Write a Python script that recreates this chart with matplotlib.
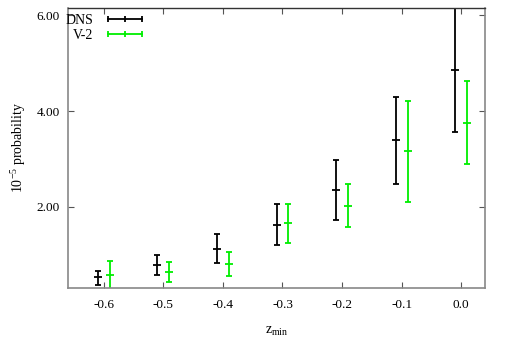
import matplotlib
matplotlib.use("Agg")
import matplotlib.pyplot as plt
from matplotlib.lines import Line2D
import numpy as np

z = [-0.6, -0.5, -0.4, -0.3, -0.2, -0.1, 0.0]
dns_mid = [0.53, 0.79, 1.125, 1.63, 2.35, 3.39, 4.85]
dns_lo = [0.375, 0.58, 0.84, 1.21, 1.72, 2.48, 3.57]
dns_hi = [0.67, 0.99, 1.44, 2.06, 2.97, 4.29, 6.15]
v2_mid = [0.58, 0.65, 0.81, 1.66, 2.02, 3.16, 3.76]
v2_lo = [0.25, 0.44, 0.55, 1.25, 1.58, 2.10, 2.90]
v2_hi = [0.875, 0.85, 1.07, 2.07, 2.48, 4.22, 4.63]
xticks = [-0.6, -0.5, -0.4, -0.3, -0.2, -0.1, 0.0]
yticks = [2.0, 4.0, 6.0]

plt.rcParams['font.family'] = ['Liberation Serif', 'DejaVu Serif']
plt.rcParams['mathtext.fontset'] = 'custom'
plt.rcParams['mathtext.rm'] = 'Liberation Serif'

fig = plt.figure(figsize=(5.09, 3.47), dpi=100)
ax = fig.add_axes([68/509, 1-288/347, (485-68)/509, (288-8)/347])

green = '#00ee00'
offset = 0.01

def draw(zs, mid, lo, hi, dx, color):
    x = np.array(zs) + dx
    mid = np.array(mid); lo = np.array(lo); hi = np.array(hi)
    ax.errorbar(x, mid, yerr=[mid - lo, hi - mid], fmt='_', color=color,
                ecolor=color, elinewidth=1.3, capsize=2, capthick=1.3,
                markersize=5.5, markeredgewidth=1.3, clip_on=True)

draw(z, dns_mid, dns_lo, dns_hi, -offset, 'black')
draw(z, v2_mid, v2_lo, v2_hi, offset, green)

ax.set_xlim(-0.66, 0.04)
ax.set_ylim(0.31, 6.15)
ax.set_xticks(xticks)
ax.set_xticklabels(['%.1f' % t for t in xticks])
ax.set_yticks(yticks)
ax.set_yticklabels(['%.2f' % t for t in yticks])
ax.tick_params(direction='in', length=4, width=0.8, labelsize=9.5, color='#555555',
               top=True, right=True, pad=8)
ax.tick_params(axis='y', pad=6)

for s in ['left', 'bottom', 'right']:
    ax.spines[s].set_color('#888888')
    ax.spines[s].set_linewidth(1.2)
ax.spines['top'].set_color('#333333')
ax.spines['top'].set_linewidth(1.0)

ax.set_xlabel(r'z$_{\rm min}$', fontsize=10, labelpad=10)
ax.set_ylabel(r'10$^{-5}$ probability', fontsize=10, labelpad=6)

h1 = Line2D([], [], color='black', lw=1.3, marker='|', markersize=5, markeredgewidth=1.3)
h2 = Line2D([], [], color=green, lw=1.3, marker='|', markersize=5, markeredgewidth=1.3)
leg = ax.legend([h1, h2], ['DNS', 'V-2'], loc='upper left', frameon=False,
                markerfirst=False, numpoints=3, handlelength=3.0,
                fontsize=10, borderaxespad=0.0, bbox_to_anchor=(-0.02, 1.0),
                handletextpad=0.8, labelspacing=0.2)

fig.savefig('out.png', dpi=100)
